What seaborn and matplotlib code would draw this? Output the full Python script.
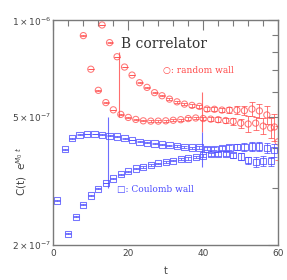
import numpy as np
import pandas as pd
import matplotlib
matplotlib.use('Agg')
import matplotlib.pyplot as plt
import matplotlib.ticker as mticker
import seaborn as sns

# values in units of 1e-7
rw_odd_t = [13, 15, 17, 19, 21, 23, 25, 27, 29, 31, 33, 35, 37, 39, 41, 43, 45, 47, 49, 51, 53, 55, 57, 59]
rw_odd_c = [9.68, 8.53, 7.71, 7.16, 6.76, 6.40, 6.19, 5.96, 5.83, 5.69, 5.58, 5.49, 5.44, 5.40,
            5.30, 5.29, 5.26, 5.26, 5.26, 5.24, 5.30, 5.23, 5.08, 4.66]
rw_odd_e = [0.01, 0.01, 0.01, 0.01, 0.02, 0.02, 0.02, 0.03, 0.03, 0.03, 0.04, 0.04, 0.05, 0.06,
            0.07, 0.08, 0.09, 0.10, 0.14, 0.18, 0.27, 0.25, 0.33, 0.45]

rw_even_t = [8, 10, 12, 14, 16, 18, 20, 22, 24, 26, 28, 30, 32, 34, 36, 38, 40, 42, 44, 46, 48, 50,
             52, 54, 56, 58, 60]
rw_even_c = [8.97, 7.05, 6.06, 5.55, 5.27, 5.10, 4.99, 4.92, 4.87, 4.86, 4.86, 4.87, 4.89, 4.91,
             4.95, 4.97, 4.95, 4.93, 4.91, 4.88, 4.85, 4.79, 4.76, 4.79, 4.69, 4.63, 4.19]
rw_even_e = [0.01, 0.01, 0.01, 0.01, 0.01, 0.02, 0.02, 0.02, 0.02, 0.03, 0.03, 0.03, 0.04, 0.04,
             0.05, 0.05, 0.06, 0.07, 0.08, 0.09, 0.11, 0.16, 0.28, 0.22, 0.27, 0.33, 0.5]

cw_odd_t = [1, 3, 5, 7, 9, 11, 13, 15, 17, 19, 21, 23, 25, 27, 29, 31, 33, 35, 37, 39, 41, 43, 45,
            47, 49, 51, 53, 55, 57, 59]
cw_odd_c = [2.75, 3.97, 4.30, 4.41, 4.43, 4.43, 4.41, 4.38, 4.35, 4.30, 4.24, 4.19, 4.16, 4.14,
            4.11, 4.09, 4.07, 4.04, 4.02, 4.02, 3.99, 3.99, 4.00, 4.02, 4.04, 4.03, 4.05, 4.05, 4.00, 3.95]
cw_odd_e = [0.01, 0.01, 0.01, 0.01, 0.01, 0.01, 0.01, 0.01, 0.01, 0.01, 0.01, 0.02, 0.02, 0.02,
            0.02, 0.02, 0.03, 0.03, 0.03, 0.04, 0.05, 0.05, 0.06, 0.07, 0.09, 0.11, 0.12, 0.13, 0.14, 0.18]

cw_even_t = [4, 6, 8, 10, 12, 14, 16, 18, 20, 22, 24, 26, 28, 30, 32, 34, 36, 38, 40, 42, 44, 46,
             48, 50, 52, 54, 56, 58]
cw_even_c = [2.17, 2.45, 2.67, 2.85, 2.99, 3.12, 3.22, 3.32, 3.39, 3.46, 3.50, 3.55, 3.59, 3.62,
             3.66, 3.70, 3.72, 3.75, 3.80, 3.83, 3.84, 3.84, 3.81, 3.77, 3.67, 3.63, 3.66, 3.65]
cw_even_e = [0.01, 0.01, 0.01, 0.01, 0.01, 0.01, 0.01, 0.01, 0.01, 0.01, 0.02, 0.02, 0.02, 0.02,
             0.02, 0.03, 0.03, 0.03, 0.04, 0.04, 0.05, 0.05, 0.07, 0.09, 0.10, 0.13, 0.13, 0.12]

# fit range markers: (t, low, high)
red_marks = [(17.6, 5.0, 8.0), (39.6, 4.5, 6.0)]
blue_marks = [(14.6, 3.0, 5.0), (39.6, 3.5, 4.5)]

RED = '#ff4a4a'
BLUE = '#4a4aff'
GRAY = '#7a7a7a'
scale = 1e-7

sns.set_style('white')
plt.rcParams['font.family'] = ['DejaVu Sans']

fig = plt.figure(figsize=(2.87, 2.80), dpi=100)
ax = fig.add_axes([0.186, 0.125, 0.783, 0.802])

for tt, cc, ee, col, mk in [(rw_odd_t, rw_odd_c, rw_odd_e, RED, 'o'),
                            (rw_even_t, rw_even_c, rw_even_e, RED, 'o'),
                            (cw_odd_t, cw_odd_c, cw_odd_e, BLUE, 's'),
                            (cw_even_t, cw_even_c, cw_even_e, BLUE, 's')]:
    df = pd.DataFrame({'t': tt, 'c': np.array(cc) * scale, 'e': np.array(ee) * scale})
    ax.errorbar(df['t'], df['c'], yerr=df['e'], fmt='none', ecolor=col, elinewidth=0.7,
                capsize=2.3, capthick=0.7, alpha=0.75)
    sns.scatterplot(data=df, x='t', y='c', marker=mk, s=20, fc='none', ec=col,
                    linewidth=0.75, alpha=0.75, ax=ax, legend=False)

for t0, lo, hi in red_marks:
    ax.vlines(t0, lo * scale, hi * scale, color=RED, lw=0.8, alpha=0.8)
for t0, lo, hi in blue_marks:
    ax.vlines(t0, lo * scale, hi * scale, color=BLUE, lw=0.8, alpha=0.8)

ax.set_yscale('log')
ax.set_xlim(0, 60)
ax.set_ylim(2e-7, 1e-6)

ax.xaxis.set_major_locator(mticker.FixedLocator([0, 20, 40, 60]))
ax.xaxis.set_minor_locator(mticker.MultipleLocator(4))
ax.yaxis.set_major_locator(mticker.FixedLocator([2e-7, 5e-7, 1e-6]))
ax.yaxis.set_minor_locator(mticker.FixedLocator([3e-7, 4e-7, 6e-7, 7e-7, 8e-7, 9e-7]))
ax.yaxis.set_major_formatter(mticker.FixedFormatter([r'$2\times10^{-7}$', r'$5\times10^{-7}$', r'$1\times10^{-6}$']))
ax.yaxis.set_minor_formatter(mticker.NullFormatter())

ax.tick_params(which='both', direction='in', top=True, right=True, colors=GRAY,
               labelcolor='#444444', labelsize=6.5, width=0.8)
ax.tick_params(which='major', length=7, pad=3)
ax.tick_params(axis='y', which='major', pad=1.5)
ax.tick_params(which='minor', length=4)
for s in ax.spines.values():
    s.set_color(GRAY)
    s.set_linewidth(1.0)

ax.set_xlabel('t', fontsize=7, color='#444444', labelpad=6)
ax.set_ylabel(r'C(t)  e$^{M_0\ t}$', fontsize=7.5, color='#444444')
ax.yaxis.set_label_coords(-0.11, 0.33)

ax.text(0.30, 0.895, 'B correlator', transform=ax.transAxes, fontsize=10,
        family=['DejaVu Serif'], color='#333333', va='center')
ax.text(0.49, 0.775, '○: random wall', transform=ax.transAxes, fontsize=6.5,
        family=['DejaVu Serif'], color=RED, va='center')
ax.text(0.285, 0.245, '□: Coulomb wall', transform=ax.transAxes, fontsize=6.5,
        family=['DejaVu Serif'], color=BLUE, va='center')

plt.savefig('out.png', dpi=100)
plt.close()
